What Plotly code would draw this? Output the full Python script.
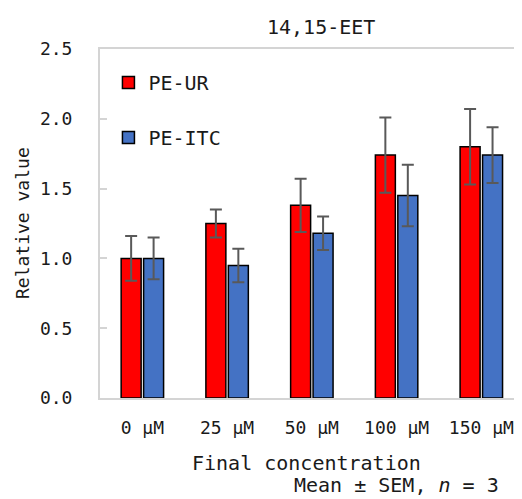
import plotly.graph_objects as go

categories = ["0 μM", "25 μM", "50 μM", "100 μM", "150 μM"]
ur_values = [1.00, 1.25, 1.38, 1.74, 1.80]
ur_sem = [0.16, 0.10, 0.19, 0.27, 0.27]
itc_values = [1.00, 0.95, 1.18, 1.45, 1.74]
itc_sem = [0.15, 0.12, 0.12, 0.22, 0.20]
y_ticks = [0.0, 0.5, 1.0, 1.5, 2.0, 2.5]
y_ticklabels = ["0.0", "0.5", "1.0", "1.5", "2.0", "2.5"]

FONT = "DejaVu Sans Mono, Liberation Mono, monospace"
TXT = "#1a1a1a"
err_style = dict(type="data", visible=True, color="#595959", thickness=2, width=6)

# figure size compensates the page's 8px body margin
W, H = 514, 491
L, T, B, R = 92, 41, 101, 0
PW, PH = W - L - R, H - T - B


def px_x(x):
    return (x - 8 - L) / PW


def px_y(y):
    return 1 - (y - 8 - T) / PH


fig = go.Figure()
fig.add_trace(go.Bar(
    x=categories, y=ur_values, name="PE-UR", legendgroup="ur",
    marker=dict(color="#FF0000", line=dict(color="#000000", width=1.5)),
    error_y=dict(array=ur_sem, **err_style),
))
fig.add_trace(go.Bar(
    x=categories, y=itc_values, name="PE-ITC", legendgroup="itc",
    marker=dict(color="#4472C4", line=dict(color="#000000", width=1.5)),
    error_y=dict(array=itc_sem, **err_style),
))

fig.update_layout(
    width=W, height=H,
    margin=dict(l=L, r=R, t=T, b=B, autoexpand=False),
    paper_bgcolor="white", plot_bgcolor="white",
    font=dict(family=FONT, size=18, color=TXT),
    barmode="group", bargap=0.47, bargroupgap=0.11,
    showlegend=True,
    legend=dict(x=0.02, y=0.96, xanchor="left", yanchor="top",
                bgcolor="rgba(0,0,0,0)", font=dict(size=20, color=TXT),
                traceorder="grouped", tracegroupgap=26, itemwidth=30),
)

fig.add_annotation(text="14,15-EET", xref="paper", yref="paper",
                   x=px_x(321), y=px_y(27), showarrow=False,
                   font=dict(size=20), xanchor="center", yanchor="middle")
fig.add_annotation(text="Final concentration", xref="paper", yref="paper",
                   x=px_x(306), y=px_y(463), showarrow=False,
                   font=dict(size=20), xanchor="center", yanchor="middle")
fig.add_annotation(text="Mean ± SEM, <i>n</i> = 3", xref="paper", yref="paper",
                   x=px_x(396), y=px_y(485), showarrow=False,
                   font=dict(size=20), xanchor="center", yanchor="middle")
fig.add_annotation(text="Relative value", xref="paper", yref="paper",
                   x=px_x(22), y=px_y(223), showarrow=False, textangle=-90,
                   font=dict(size=18), xanchor="center", yanchor="middle")

fig.update_xaxes(
    range=[-0.5, 4.48], showline=True, linecolor="#d4d4d4", linewidth=2, mirror=True,
    ticks="", showgrid=False, tickfont=dict(size=18), ticklabelstandoff=12,
)
fig.update_yaxes(
    range=[0, 2.5], tickvals=y_ticks, ticktext=y_ticklabels,
    showline=True, linecolor="#d4d4d4", linewidth=2, mirror=True,
    ticks="inside", ticklen=7, tickcolor="#d4d4d4", tickwidth=2,
    showgrid=False, zeroline=False, tickfont=dict(size=18), ticklabelstandoff=22,
)

fig.write_html("out.html")
